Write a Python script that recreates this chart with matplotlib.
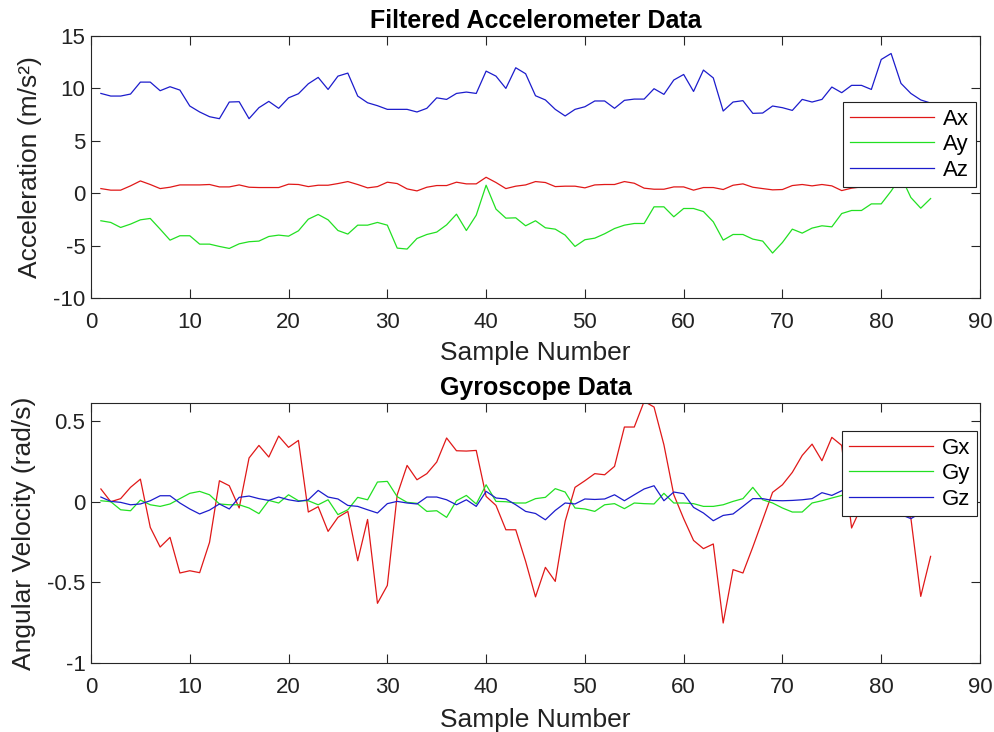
import matplotlib
matplotlib.use("Agg")
import matplotlib.pyplot as plt
import numpy as np

plt.rcParams['font.family'] = ['Liberation Sans', 'DejaVu Sans']

samples = list(range(1, 86))

ax_vals = [0.44, 0.29, 0.29, 0.70, 1.17, 0.83, 0.44, 0.57, 0.79, 0.79,
           0.79, 0.83, 0.60, 0.60, 0.79, 0.57, 0.54, 0.54, 0.54, 0.86,
           0.83, 0.63, 0.76, 0.76, 0.92, 1.11, 0.83, 0.51, 0.63, 1.05,
           0.92, 0.41, 0.22, 0.57, 0.73, 0.73, 1.05, 0.89, 0.89, 1.52,
           1.02, 0.44, 0.67, 0.79, 1.11, 1.02, 0.63, 0.67, 0.67, 0.51,
           0.79, 0.83, 0.83, 1.11, 0.95, 0.48, 0.38, 0.38, 0.60, 0.60,
           0.29, 0.54, 0.54, 0.35, 0.76, 0.89, 0.57, 0.44, 0.32, 0.35,
           0.73, 0.83, 0.70, 0.83, 0.70, 0.25, 0.48, 0.60, 0.67, 0.86,
           1.00, 0.95, 0.90, 0.70, 0.85]

ay_vals = [-2.63, -2.79, -3.27, -2.95, -2.54, -2.41, -3.43, -4.48, -4.06, -4.06,
           -4.86, -4.86, -5.08, -5.27, -4.83, -4.63, -4.57, -4.13, -4.00, -4.10,
           -3.59, -2.48, -2.03, -2.54, -3.56, -3.90, -3.05, -3.05, -2.79, -3.05,
           -5.24, -5.33, -4.32, -3.94, -3.71, -3.02, -2.00, -3.56, -2.10, 0.76,
           -1.52, -2.38, -2.35, -3.11, -2.63, -3.30, -3.43, -4.00, -5.08, -4.44,
           -4.29, -3.87, -3.37, -3.05, -2.89, -2.89, -1.30, -1.30, -2.25, -1.46,
           -1.46, -1.75, -2.73, -4.48, -3.94, -3.94, -4.38, -4.57, -5.71, -4.70,
           -3.43, -3.81, -3.33, -3.11, -3.21, -1.94, -1.65, -1.65, -1.02, -1.02,
           0.20, 1.60, -0.41, -1.43, -0.51]

az_vals = [9.52, 9.27, 9.27, 9.46, 10.60, 10.60, 9.78, 10.16, 9.84, 8.32,
           7.75, 7.30, 7.11, 8.70, 8.73, 7.11, 8.16, 8.76, 8.10, 9.10,
           9.49, 10.44, 11.05, 9.90, 11.17, 11.46, 9.27, 8.63, 8.35, 8.00,
           8.00, 8.00, 7.75, 8.10, 9.10, 8.95, 9.52, 9.65, 9.52, 11.65,
           11.17, 10.00, 11.97, 11.40, 9.30, 8.90, 8.00, 7.37, 8.00, 8.25,
           8.80, 8.80, 8.10, 8.86, 8.98, 8.98, 9.97, 9.43, 10.80, 11.33,
           9.71, 11.75, 11.00, 7.84, 8.70, 8.83, 7.62, 7.65, 8.32, 8.16,
           7.90, 8.95, 8.70, 8.95, 10.13, 9.59, 10.29, 10.29, 9.90, 12.76,
           13.33, 10.48, 9.52, 8.90, 8.60]

gx_vals = [0.079, 0.000, 0.019, 0.089, 0.140, -0.159, -0.281, -0.221, -0.442, -0.428,
           -0.440, -0.252, 0.130, 0.099, -0.039, 0.271, 0.349, 0.277, 0.407, 0.337,
           0.380, -0.064, -0.031, -0.184, -0.097, -0.060, -0.366, -0.110, -0.630, -0.519,
           0.043, 0.225, 0.136, 0.174, 0.246, 0.395, 0.316, 0.314, 0.318, 0.033,
           -0.023, -0.174, -0.174, -0.370, -0.590, -0.407, -0.494, -0.122, 0.089, 0.130,
           0.174, 0.167, 0.219, 0.463, 0.463, 0.622, 0.587, 0.353, 0.043, -0.105,
           -0.240, -0.291, -0.262, -0.752, -0.421, -0.442, -0.281, -0.112, 0.058, 0.105,
           0.182, 0.287, 0.357, 0.254, 0.399, 0.349, -0.163, -0.030, 0.050, 0.100,
           0.060, -0.040, -0.101, -0.587, -0.339]

gy_vals = [0.006, 0.000, -0.050, -0.056, 0.010, -0.019, -0.029, -0.014, 0.019, 0.052,
           0.064, 0.043, -0.014, -0.019, -0.019, -0.039, -0.074, 0.008, -0.008, 0.043,
           0.006, 0.006, -0.019, 0.012, -0.080, -0.050, 0.027, 0.012, 0.122, 0.126,
           0.031, -0.004, -0.010, -0.060, -0.056, -0.097, 0.006, 0.039, -0.014, 0.105,
           0.002, 0.000, -0.008, -0.008, 0.019, 0.027, 0.081, 0.060, -0.039, -0.045,
           -0.060, -0.019, -0.012, -0.043, -0.008, -0.012, -0.014, 0.052, -0.008, -0.008,
           -0.012, -0.029, -0.029, -0.019, 0.002, 0.019, 0.089, 0.012, -0.008, -0.039,
           -0.064, -0.064, -0.008, 0.006, 0.023, 0.039, 0.025, 0.020, 0.030, 0.015,
           0.010, 0.020, 0.010, -0.010, 0.000]

gz_vals = [0.029, 0.002, -0.004, -0.019, -0.014, 0.006, 0.037, 0.037, -0.008, -0.045,
           -0.076, -0.052, -0.014, -0.045, 0.027, 0.035, 0.019, 0.008, 0.029, 0.012,
           0.002, 0.012, 0.070, 0.029, 0.017, -0.023, -0.029, -0.050, -0.070, -0.012,
           0.002, -0.008, -0.014, 0.029, 0.029, 0.012, -0.019, 0.012, -0.029, 0.064,
           0.023, 0.017, -0.019, -0.060, -0.073, -0.112, -0.054, -0.008, -0.014, 0.017,
           0.014, 0.017, 0.043, 0.006, 0.043, 0.079, 0.099, 0.006, 0.060, 0.050,
           -0.035, -0.070, -0.118, -0.085, -0.076, -0.029, 0.019, 0.019, 0.008, 0.006,
           0.008, 0.012, 0.019, 0.056, 0.039, 0.068, 0.060, 0.050, 0.030, 0.000,
           -0.050, -0.080, -0.105, -0.070, 0.000]

xticks = [0, 10, 20, 30, 40, 50, 60, 70, 80, 90]
acc_yticks = [-10, -5, 0, 5, 10, 15]
gyr_yticks = [-1, -0.5, 0, 0.5]

RED = '#e01818'
GREEN = '#22e022'
BLUE = '#1c1ccc'
AXC = '#262626'

fig = plt.figure(figsize=(9.95, 7.32), dpi=100)
ax1 = fig.add_axes([91/995, 1-298/732, 889/995, 262/732])
ax2 = fig.add_axes([91/995, 1-663/732, 889/995, 260/732])

def style(ax):
    for s in ax.spines.values():
        s.set_color(AXC)
        s.set_linewidth(0.8)
    ax.tick_params(direction='in', length=6.5, width=0.8, color=AXC,
                   top=True, right=True, labelsize=16, labelcolor='#222222', pad=4)
    ax.tick_params(axis='x', pad=10)
    ax.set_xlim(0, 90)
    ax.set_xticks(xticks)
    ax.set_xticklabels([str(v) for v in xticks])

def legend(ax, anchor):
    leg = ax.legend(loc='upper right', bbox_to_anchor=anchor, borderaxespad=0,
                    fontsize=16, handlelength=3.8, fancybox=False, framealpha=1,
                    edgecolor='#222222', borderpad=0.3, labelspacing=0.2,
                    handletextpad=0.4)
    leg.get_frame().set_linewidth(0.8)
    return leg

lw = 0.9
ax1.plot(samples, ax_vals, color=RED, lw=lw, label='Ax')
ax1.plot(samples, ay_vals, color=GREEN, lw=lw, label='Ay')
ax1.plot(samples, az_vals, color=BLUE, lw=lw, label='Az')
style(ax1)
ax1.set_ylim(-10, 15)
ax1.set_yticks(acc_yticks)
ax1.set_yticklabels([str(v) for v in acc_yticks])
ax1.set_title('Filtered Accelerometer Data', fontsize=18, fontweight='bold', pad=6)
ax1.set_xlabel('Sample Number', fontsize=19, color='#222222', labelpad=6)
ax1.set_ylabel('Acceleration (m/s²)', fontsize=19, color='#222222', labelpad=8)
legend(ax1, (0.9955, 0.748))

ax2.plot(samples, gx_vals, color=RED, lw=lw, label='Gx')
ax2.plot(samples, gy_vals, color=GREEN, lw=lw, label='Gy')
ax2.plot(samples, gz_vals, color=BLUE, lw=lw, label='Gz')
style(ax2)
ax2.set_ylim(-1, 0.612)
ax2.set_yticks(gyr_yticks)
ax2.set_yticklabels(['-1', '-0.5', '0', '0.5'])
ax2.set_title('Gyroscope Data', fontsize=18, fontweight='bold', pad=6)
ax2.set_xlabel('Sample Number', fontsize=19, color='#222222', labelpad=7)
ax2.set_ylabel('Angular Velocity (rad/s)', fontsize=19, color='#222222', labelpad=8)
legend(ax2, (0.9966, 0.892))

fig.savefig('out.png', dpi=100)
